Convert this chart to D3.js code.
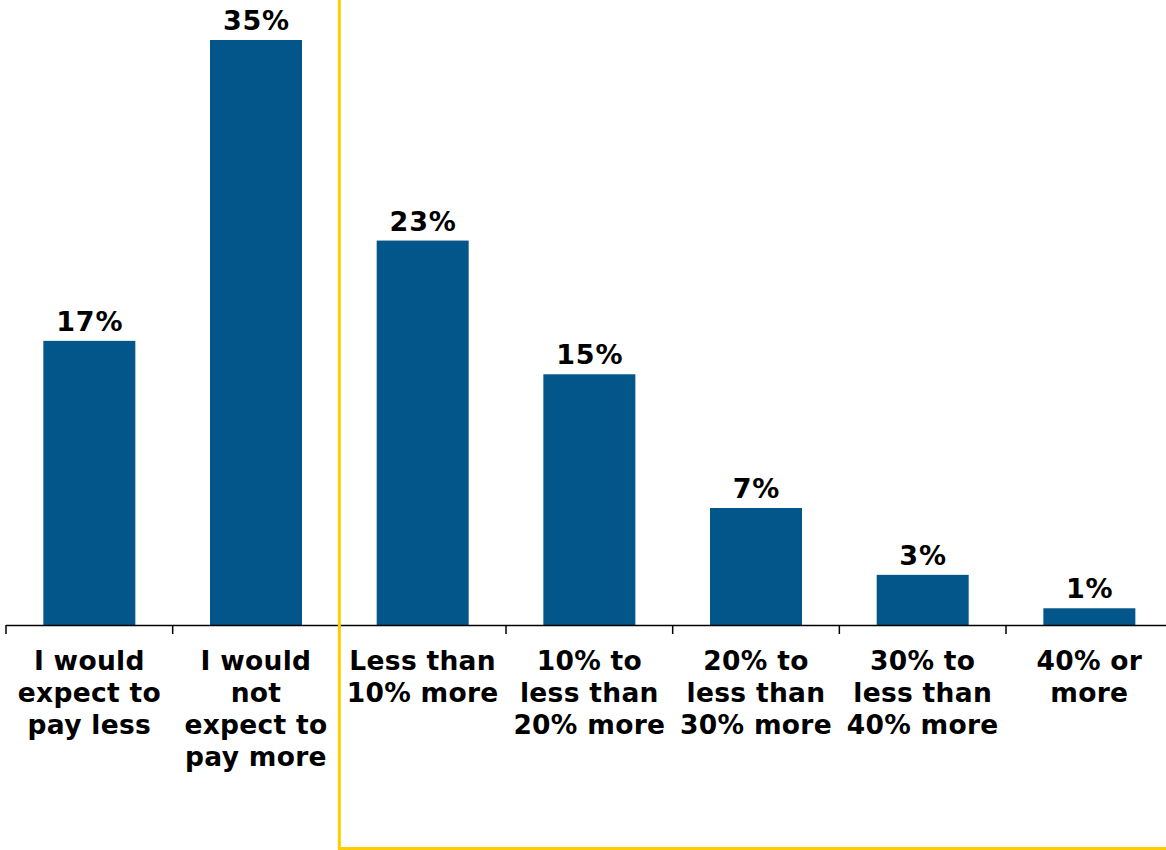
<!DOCTYPE html>
<html>
<head>
<meta charset="utf-8">
<script src="https://cdn.jsdelivr.net/npm/d3@7"></script>
<style>
  body { margin: 0; background: #fff; }
  svg text { font-family: "DejaVu Sans", Verdana, sans-serif; font-weight: bold; }
</style>
</head>
<body>
<div id="chart"></div>
<script>
const categories = [
  ["I would", "expect to", "pay less"],
  ["I would", "not", "expect to", "pay more"],
  ["Less than", "10% more"],
  ["10% to", "less than", "20% more"],
  ["20% to", "less than", "30% more"],
  ["30% to", "less than", "40% more"],
  ["40% or", "more"]
];
const values = [17, 35, 23, 15, 7, 3, 1];

const width = 1166, height = 850;
const baseY = 625;

const svg = d3.select("#chart").append("svg")
  .attr("width", width)
  .attr("height", height);

const keys = categories.map((c, i) => i);

const x = d3.scaleBand()
  .domain(keys)
  .range([6, 6 + 166.67 * keys.length])
  .paddingInner(0.448)
  .paddingOuter(0.224);

const y = d3.scaleLinear().domain([0, 35]).range([baseY, 40]);

const gap = (x.step() - x.bandwidth()) / 2;
const edge = (i) => x(i) - gap;

// bars
svg.selectAll(".bar")
  .data(values)
  .enter()
  .append("rect")
  .attr("class", "bar")
  .attr("x", (d, i) => x(i))
  .attr("width", x.bandwidth())
  .attr("y", (d) => y(d))
  .attr("height", (d) => baseY - y(d))
  .style("fill", "#02568a");

// value labels
svg.selectAll(".val")
  .data(values)
  .enter()
  .append("text")
  .attr("class", "val")
  .attr("x", (d, i) => x(i) + x.bandwidth() / 2 + 0.4)
  .attr("y", (d) => y(d) - 10)
  .attr("text-anchor", "middle")
  .style("font-size", "27px")
  .style("letter-spacing", "0.8px")
  .style("fill", "#000")
  .text((d) => d + "%");

// axis line and ticks
svg.append("line")
  .attr("x1", edge(0)).attr("x2", width)
  .attr("y1", baseY + 0.5).attr("y2", baseY + 0.5)
  .attr("stroke", "#000").attr("stroke-width", 1.5);

svg.selectAll(".tick")
  .data(keys)
  .enter()
  .append("line")
  .attr("class", "tick")
  .attr("x1", (d) => edge(d)).attr("x2", (d) => edge(d))
  .attr("y1", baseY).attr("y2", baseY + 9)
  .attr("stroke", "#000").attr("stroke-width", 1.5);

// category labels
const lab = svg.selectAll(".cat")
  .data(categories)
  .enter()
  .append("text")
  .attr("class", "cat")
  .attr("text-anchor", "middle")
  .style("font-size", "26.5px")
  .style("letter-spacing", "0.3px")
  .style("fill", "#000");

lab.selectAll("tspan")
  .data((d, i) => d.map((t) => ({ t, i })))
  .enter()
  .append("tspan")
  .attr("x", (d) => x(d.i) + x.bandwidth() / 2)
  .attr("y", (d, j) => 670 + j * 32)
  .text((d) => d.t);

// yellow frame
const fx = edge(2);
svg.append("path")
  .attr("d", `M${fx},0 V848.5 H${width}`)
  .attr("fill", "none")
  .attr("stroke", "#ffcc00")
  .attr("stroke-width", 3);
</script>
</body>
</html>
